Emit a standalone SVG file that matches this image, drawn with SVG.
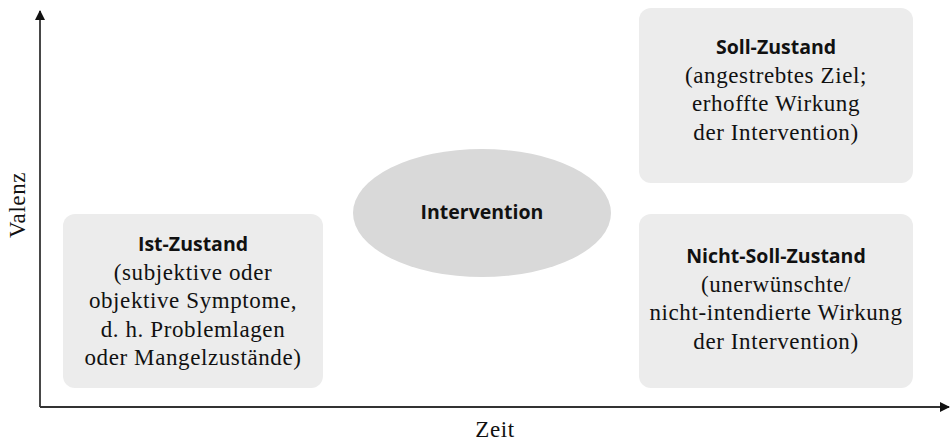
<svg xmlns="http://www.w3.org/2000/svg" width="950" height="443" viewBox="0 0 950 443">
<defs>
<style>
.box{fill:#ececec;}
.ell{fill:#d9d9d9;}
.h{font-family:"Open Sans","DejaVu Sans",sans-serif;font-weight:bold;font-size:19.5px;fill:#111;text-anchor:middle;}
.t{font-family:"Liberation Serif","Times New Roman",serif;font-size:23px;letter-spacing:0.6px;fill:#111;text-anchor:middle;}
.ax{stroke:#333;stroke-width:1.8;fill:none;}
</style>
<marker id="arr" markerWidth="10" markerHeight="10" refX="9" refY="5" orient="auto" markerUnits="userSpaceOnUse">
<path d="M0,0 L10,5 L0,10 Z" fill="#111"/>
</marker>
</defs>
<g id="connectors">
<line class="ax" x1="40" y1="407" x2="40" y2="11" marker-end="url(#arr)"/>
<line class="ax" x1="40" y1="407" x2="949" y2="407" marker-end="url(#arr)"/>
</g>
<g id="ist">
<rect class="box" x="63" y="214" width="260" height="174" rx="12"/>
<text class="h" x="193" y="251">Ist-Zustand</text>
<text class="t" x="193" y="279.5">(subjektive oder</text>
<text class="t" x="193" y="308">objektive Symptome,</text>
<text class="t" x="193" y="336.5">d. h. Problemlagen</text>
<text class="t" x="193" y="365">oder Mangelzustände)</text>
</g>
<g id="intervention">
<ellipse class="ell" cx="482" cy="213" rx="129" ry="64"/>
<text class="h" x="482" y="219">Intervention</text>
</g>
<g id="soll">
<rect class="box" x="639" y="8" width="274" height="175" rx="12"/>
<text class="h" x="776" y="54">Soll-Zustand</text>
<text class="t" x="776" y="82.5">(angestrebtes Ziel;</text>
<text class="t" x="776" y="111">erhoffte Wirkung</text>
<text class="t" x="776" y="139.5">der Intervention)</text>
</g>
<g id="nichtsoll">
<rect class="box" x="639" y="214" width="274" height="174" rx="12"/>
<text class="h" x="776" y="263">Nicht-Soll-Zustand</text>
<text class="t" x="776" y="291.5">(unerwünschte/</text>
<text class="t" x="776" y="320">nicht-intendierte Wirkung</text>
<text class="t" x="776" y="348.5">der Intervention)</text>
</g>
<g id="labels">
<text class="t" x="25" y="205" transform="rotate(-90 25 205)">Valenz</text>
<text class="t" x="495" y="437">Zeit</text>
</g>
</svg>
